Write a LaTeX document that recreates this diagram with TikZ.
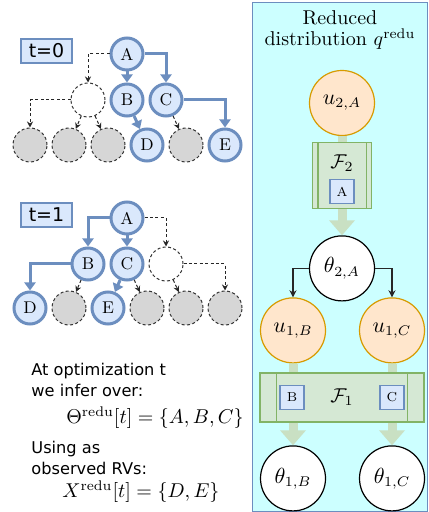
\documentclass[tikz,border=0pt]{standalone}
\usepackage{fontspec}
\newfontfamily\dejavu{DejaVu Sans}
\usetikzlibrary{arrows.meta, positioning}

\definecolor{obsfill}{HTML}{DAE8FC}
\definecolor{obsline}{HTML}{6C8EBF}
\definecolor{leaffill}{HTML}{D6D6D6}
\definecolor{ufill}{HTML}{FFE6CC}
\definecolor{uline}{HTML}{D79B00}
\definecolor{ffill}{HTML}{D5E8D4}
\definecolor{fline}{HTML}{82B366}
\definecolor{panelfill}{HTML}{CCFFFF}

\begin{document}
\begin{tikzpicture}[
    x=0.5pt, y=-0.5pt,
    node distance=23pt and 19.5pt,
    obs/.style={circle, on grid, draw=obsline, fill=obsfill, line width=1.5pt, minimum size=16pt, inner sep=0pt, font=\fontsize{8.5}{10}\selectfont},
    hid/.style={circle, on grid, draw=black!80, dash pattern=on 1.5pt off 1.2pt, line width=0.5pt, fill=white, minimum size=17pt, inner sep=0pt},
    leaf/.style={hid, fill=leaffill},
    tbox/.style={rectangle, draw=obsline, fill=obsfill, line width=0.8pt, minimum width=25.5pt, minimum height=12pt, inner sep=0pt, font=\dejavu\fontsize{9.5}{11}\selectfont},
    note/.style={align=left, inner sep=0pt, font=\dejavu\fontsize{8.1}{10.5}\selectfont},
    unode/.style={circle, draw=uline, fill=ufill, line width=0.6pt, minimum size=32.5pt, inner sep=0pt, font=\fontsize{10.5}{12}\selectfont},
    thnode/.style={circle, draw=black, fill=white, line width=0.6pt, minimum size=32.5pt, inner sep=0pt, font=\fontsize{10.5}{12}\selectfont},
    fbox/.style={rectangle, draw=fline, fill=ffill, line width=0.6pt, inner sep=0pt},
    rvbox/.style={rectangle, draw=obsline, fill=obsfill, line width=0.6pt, minimum size=12pt, inner sep=0pt, font=\fontsize{6.5}{8}\selectfont},
    arrow/.style={-{Triangle[length=4pt, width=5.5pt]}, line width=1.5pt, draw=obsline},
    dotarrow/.style={-{Stealth[length=3pt, width=3pt]}, line width=0.5pt, draw=black!85, dash pattern=on 1.5pt off 1.2pt},
    link/.style={-{Stealth[length=3.5pt, width=3.5pt]}, line width=0.6pt, draw=black!85},
    band/.style={line width=4.5pt, draw=ffill!85!fline},
    flow/.style={-{Triangle[length=7.5pt, width=12.5pt]}, line width=4.5pt, draw=ffill!85!fline}
]
\useasboundingbox (0,0) rectangle (428,512);

% Reduced distribution panel
\draw[draw=obsline, fill=panelfill, line width=0.6pt] (252.5,2.5) rectangle (427.5,511.5);
\node[align=center, font=\fontsize{10}{10.5}\selectfont] (title) at (340,30) {Reduced\\distribution $q^{\mathrm{redu}}$};

% Tree at t=0
\node[tbox] (t0) at (46.5,51) {t=0};
\node[obs] (A0) at (127,54) {A};
\node[obs, below=of A0] (B0) {B};
\node[obs, right=of B0] (C0) {C};
\node[hid, left=of B0] (H0) {};
\node[leaf, below left=45.5pt and 48.5pt of A0] (L01) {};
\node[leaf, right=of L01] (L02) {};
\node[leaf, right=of L02] (L03) {};
\node[obs, right=of L03] (D0) {D};
\node[leaf, right=of D0] (L05) {};
\node[obs, right=of L05] (E0) {E};

\draw[dotarrow] (A0.west) -| (H0.north);
\draw[arrow] (A0) -- (B0);
\draw[arrow] (A0.east) -| (C0.north);
\draw[dotarrow] (H0.west) -| (L01.north);
\draw[dotarrow] (H0) -- (L02);
\draw[dotarrow] (H0) -- (L03);
\draw[arrow] (B0) -- (D0);
\draw[dotarrow] (C0) -- (L05);
\draw[arrow] (C0.east) -| (E0.north);

% Tree at t=1
\node[tbox] (t1) at (46.5,215) {t=1};
\node[obs] (A1) at (127,218) {A};
\node[obs, below=of A1] (C1) {C};
\node[obs, left=of C1] (B1) {B};
\node[hid, right=of C1] (H1) {};
\node[obs, below left=45pt and 48.5pt of A1] (D1) {D};
\node[leaf, right=of D1] (L12) {};
\node[obs, right=of L12] (E1) {E};
\node[leaf, right=of E1] (L14) {};
\node[leaf, right=of L14] (L15) {};
\node[leaf, right=of L15] (L16) {};

\draw[arrow] (A1.west) -| (B1.north);
\draw[arrow] (A1) -- (C1);
\draw[dotarrow] (A1.east) -| (H1.north);
\draw[arrow] (B1.west) -| (D1.north);
\draw[dotarrow] (B1) -- (L12);
\draw[arrow] (C1) -- (E1);
\draw[dotarrow] (C1) -- (L14);
\draw[dotarrow] (H1) -- (L15);
\draw[dotarrow] (H1.east) -| (L16.north);

% Text
\node[note, anchor=west] (infer) at (31,380) {At optimization t\\we infer over:};
\node[anchor=west, inner sep=0pt] (theta) at (66,418) {$\Theta^{\mathrm{redu}}[t]=\{A,B,C\}$};
\node[note, anchor=west] (using) at (31,457.5) {Using as\\observed RVs:};
\node[anchor=west, inner sep=0pt] (xobs) at (62,492) {$X^{\mathrm{redu}}[t]=\{D,E\}$};

% Level 2
\node[unode] (u2A) at (342,103) {$u_{2,A}$};
\node[fbox, minimum width=29.5pt, minimum height=33pt, below=3pt of u2A] (F2) {};
\draw[fline, line width=0.6pt] ([xshift=3pt]F2.north west) -- ([xshift=3pt]F2.south west);
\draw[fline, line width=0.6pt] ([xshift=-3pt]F2.north east) -- ([xshift=-3pt]F2.south east);
\node[font=\fontsize{10}{12}\selectfont] (F2lab) at ([yshift=-10.5pt]F2.north) {$\mathcal{F}_2$};
\node[rvbox, above=2.5pt of F2.south] (rvA) {A};
\node[thnode, below=13pt of F2] (T2A) {$\theta_{2,A}$};

% Level 1
\node[unode, on grid, below left=31pt and 24.5pt of T2A] (u1B) {$u_{1,B}$};
\node[unode, on grid, below right=31pt and 25pt of T2A] (u1C) {$u_{1,C}$};
\node[fbox, minimum width=82pt, minimum height=24.5pt] (F1) at (342,397.5) {};
\draw[fline, line width=0.6pt] ([xshift=8.5pt]F1.north west) -- ([xshift=8.5pt]F1.south west);
\draw[fline, line width=0.6pt] ([xshift=-8.5pt]F1.north east) -- ([xshift=-8.5pt]F1.south east);
\node[font=\fontsize{10}{12}\selectfont] (F1lab) at (F1) {$\mathcal{F}_1$};
\node[rvbox, right=10pt of F1.west] (rvB) {B};
\node[rvbox, left=10pt of F1.east] (rvC) {C};
\node[thnode, on grid, below=74pt of u1B] (T1B) {$\theta_{1,B}$};
\node[thnode, on grid, below=74pt of u1C] (T1C) {$\theta_{1,C}$};

% Connections
\draw[band] (u2A) -- (F2);
\draw[flow] (F2) -- (T2A);
\draw[link] (T2A.west) -| (u1B.north);
\draw[link] (T2A.east) -| (u1C.north);
\draw[band] (u1B) -- (u1B |- F1.north);
\draw[band] (u1C) -- (u1C |- F1.north);
\draw[flow] (F1.south -| T1B) -- (T1B);
\draw[flow] (F1.south -| T1C) -- (T1C);

\end{tikzpicture}
\end{document}
